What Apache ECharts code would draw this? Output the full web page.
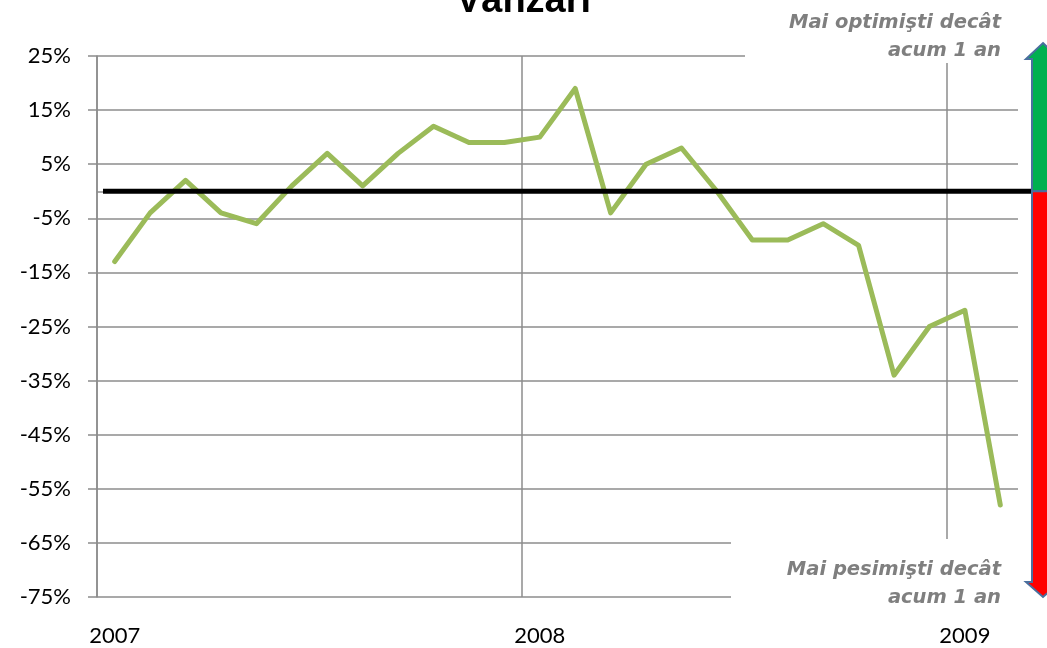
<!DOCTYPE html>
<html>
<head>
<meta charset="utf-8">
<script src="https://cdn.jsdelivr.net/npm/echarts@6/dist/echarts.min.js"></script>
<style>
  html, body { margin: 0; padding: 0; background: #fff; }
  #chart { width: 1047px; height: 648px; }
</style>
</head>
<body>
<div id="chart"></div>
<script>
// luni ian 2007 - feb 2009
const months = [
  '2007-01', '2007-02', '2007-03', '2007-04', '2007-05', '2007-06',
  '2007-07', '2007-08', '2007-09', '2007-10', '2007-11', '2007-12',
  '2008-01', '2008-02', '2008-03', '2008-04', '2008-05', '2008-06',
  '2008-07', '2008-08', '2008-09', '2008-10', '2008-11', '2008-12',
  '2009-01', '2009-02'
];
// sold vanzari (%)
const sales = [
  -13, -4, 2, -4, -6, 1, 7, 1, 7, 12, 9, 9,
  10, 19, -4, 5, 8, 0, -9, -9, -6, -10, -34, -25,
  -22, -58
];
const yTicks = [-75, -65, -55, -45, -35, -25, -15, -5, 5, 15, 25];
const zeroLine = [[0, 0], [1, 0]];
const titleText = 'Vânzări';
const noteTop = 'Mai optimişti decât\nacum 1 an';
const noteBottom = 'Mai pesimişti decât\nacum 1 an';

const gridColor = '#8c8c8c';
const labelFont = 'Lato';

const chart = echarts.init(document.getElementById('chart'));

chart.setOption({
  animation: false,
  title: {
    text: titleText,
    left: 'center',
    top: -22,
    textStyle: { fontFamily: 'Liberation Sans', fontWeight: 'bold', fontSize: 38, color: '#000' }
  },
  grid: [
    { left: 97, right: 29, top: 56, bottom: 51 },
    { left: 103, right: 12, top: 56, bottom: 51 }
  ],
  xAxis: [{
    type: 'category',
    data: months,
    boundaryGap: true,
    axisLine: { lineStyle: { color: gridColor, width: 1.5 } },
    axisTick: { show: false },
    axisLabel: {
      interval: 11,
      margin: 28,
      color: '#000',
      fontFamily: labelFont,
      fontSize: 22,
      formatter: v => v.slice(0, 4)
    },
    splitLine: { show: true, interval: 11, showMaxLine: false, lineStyle: { color: gridColor, width: 1.5 } }
  }, {
    type: 'value', gridIndex: 1, min: 0, max: 1, show: false
  }],
  yAxis: [{
    type: 'value',
    min: -75,
    max: 25,
    axisLine: { show: true, lineStyle: { color: gridColor, width: 1.5 } },
    axisTick: { show: true, length: 9, customValues: yTicks, lineStyle: { color: gridColor, width: 1.5 } },
    axisLabel: {
      customValues: yTicks,
      margin: 26,
      color: '#000',
      fontFamily: labelFont,
      fontSize: 22,
      formatter: v => v + '%'
    },
    splitLine: { show: true, lineStyle: { color: gridColor, width: 1.5 } }
  }, {
    type: 'value', gridIndex: 1, min: -75, max: 25, show: false
  }],
  series: [{
    name: 'Vânzări',
    type: 'line',
    data: sales,
    symbol: 'none',
    z: 3,
    lineStyle: { color: '#9bbb59', width: 5, cap: 'round', join: 'round' }
  }, {
    name: 'zero',
    type: 'line',
    xAxisIndex: 1,
    yAxisIndex: 1,
    data: zeroLine,
    symbol: 'none',
    z: 4,
    lineStyle: { color: '#000', width: 5 }
  }]
});

// sageti si note, pozitionate dupa axa Y
const yZero = chart.convertToPixel({ yAxisIndex: 0 }, 0);
const yMax = chart.convertToPixel({ yAxisIndex: 0 }, 25);
const yMin = chart.convertToPixel({ yAxisIndex: 0 }, -75);
const ax = 1043;
const noteFont = 'italic bold 19.5px "DejaVu Sans"';

chart.setOption({
  graphic: [
    { type: 'rect', z: 100, shape: { x: 745, y: 0, width: 280, height: 63 }, style: { fill: '#fff' } },
    { type: 'rect', z: 100, shape: { x: 731, y: 539, width: 290, height: 80 }, style: { fill: '#fff' } },
    {
      type: 'text', z: 101, x: 1001, y: 9,
      style: { text: noteTop, align: 'right', verticalAlign: 'top', fill: '#7f7f7f', font: noteFont, lineHeight: 28 }
    },
    {
      type: 'text', z: 101, x: 1001, y: 556,
      style: { text: noteBottom, align: 'right', verticalAlign: 'top', fill: '#7f7f7f', font: noteFont, lineHeight: 28 }
    },
    {
      type: 'polygon', z: 101,
      shape: { points: [[ax, yMax - 13], [ax + 17, yMax + 3], [ax + 11, yMax + 3], [ax + 11, yZero], [ax - 11, yZero], [ax - 11, yMax + 3], [ax - 17, yMax + 3]] },
      style: { fill: '#00b050', stroke: '#4a6f9e', lineWidth: 2 }
    },
    {
      type: 'polygon', z: 101,
      shape: { points: [[ax - 11, yZero], [ax + 11, yZero], [ax + 11, yMin - 15], [ax + 17, yMin - 15], [ax, yMin], [ax - 17, yMin - 15], [ax - 11, yMin - 15]] },
      style: { fill: '#ff0000', stroke: '#4a6f9e', lineWidth: 2 }
    }
  ]
});
</script>
</body>
</html>
